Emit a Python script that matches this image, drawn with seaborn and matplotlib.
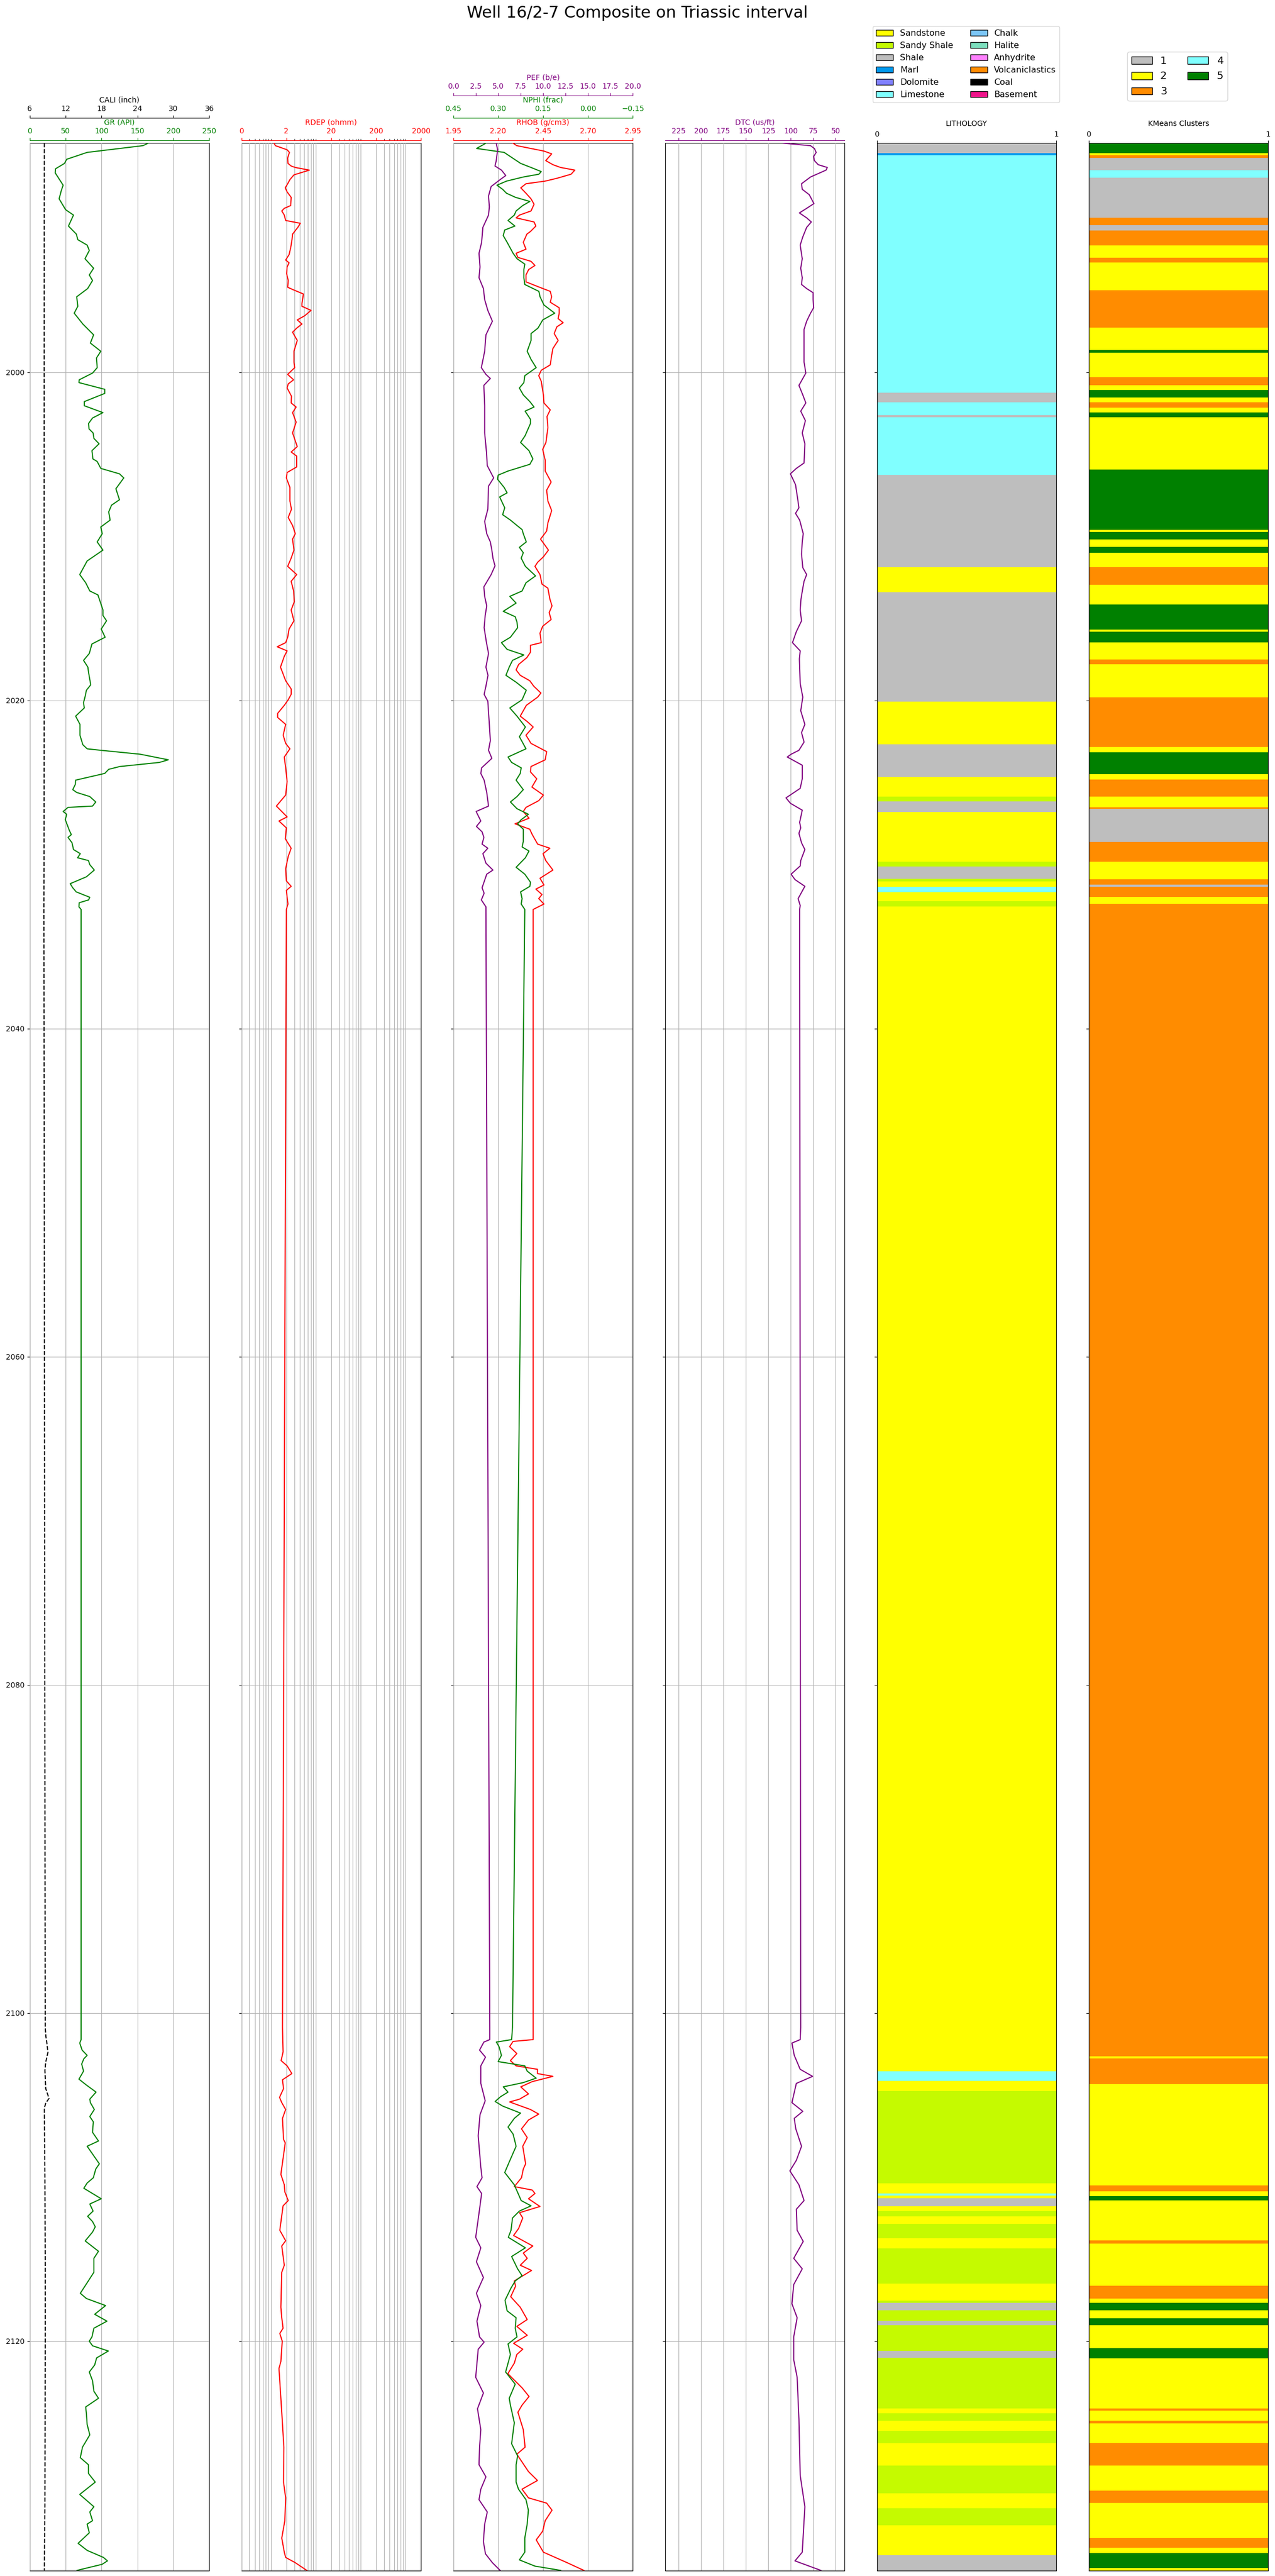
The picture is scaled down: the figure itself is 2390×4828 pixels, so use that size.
import matplotlib
matplotlib.use('Agg')
import matplotlib.pyplot as plt
import matplotlib.patches as mpatches
import seaborn as sns

# ---------------------------------------------------------------------------
# Log curves (depth in m MD)
# ---------------------------------------------------------------------------
gr_depth = [1986.04, 1986.19, 1986.60, 1987.02, 1987.27, 1987.60, 1987.85, 1988.60, 1988.93, 1989.43,
            1990.09, 1990.42, 1991.09, 1991.58, 1991.92, 1992.25, 1992.58, 1993.08, 1993.66, 1994.07,
            1994.41, 1994.90, 1995.40, 1995.98, 1996.40, 1997.06, 1997.72, 1998.22, 1998.72, 1999.13,
            1999.72, 2000.05, 2000.46, 2000.63, 2001.04, 2001.29, 2001.79, 2002.04, 2002.46, 2002.79,
            2003.12, 2003.45, 2003.70, 2004.03, 2004.36, 2004.78, 2005.28, 2005.44, 2005.86, 2006.19,
            2006.44, 2007.10, 2007.77, 2008.10, 2008.51, 2009.01, 2009.43, 2009.84, 2010.34, 2010.84,
            2011.50, 2012.33, 2012.83, 2013.33, 2013.57, 2014.49, 2014.82, 2015.15, 2015.65, 2016.15,
            2016.56, 2017.14, 2017.56, 2017.97, 2018.30, 2019.05, 2019.38, 2019.80, 2020.13, 2020.46,
            2020.96, 2021.46, 2022.12, 2022.70, 2022.95, 2023.04, 2023.28, 2023.62, 2023.78, 2024.03,
            2024.20, 2024.45, 2024.86, 2025.11, 2025.44, 2025.61, 2025.86, 2026.19, 2026.44, 2026.52,
            2026.77, 2026.94, 2027.27, 2027.93, 2028.18, 2028.35, 2028.68, 2029.09, 2029.34, 2029.59,
            2029.76, 2030.01, 2030.34, 2030.75, 2031.17, 2031.42, 2031.67, 2032.00, 2032.16, 2032.33,
            2032.58, 2032.74,
            2100.87, 2101.62, 2101.83, 2102.26, 2102.58, 2102.79, 2103.11, 2103.54, 2104.03, 2104.39,
            2104.82, 2105.25, 2105.46, 2105.88, 2106.31, 2106.63, 2107.27, 2107.80, 2108.12, 2109.19,
            2109.51, 2110.04, 2110.36, 2110.68, 2111.32, 2111.64, 2112.07, 2112.39, 2112.71, 2113.03,
            2113.35, 2113.89, 2114.52, 2114.95, 2115.80, 2116.44, 2117.08, 2117.40, 2117.83, 2118.36,
            2118.78, 2119.21, 2119.74, 2120.00, 2120.28, 2120.60, 2121.02, 2121.45, 2121.88, 2122.41,
            2123.05, 2123.48, 2124.01, 2124.43, 2125.07, 2125.71, 2126.46, 2127.10, 2127.53, 2128.06,
            2128.59, 2129.34, 2130.09, 2130.41, 2130.94, 2131.15, 2131.68, 2132.32, 2132.75, 2133.18,
            2133.39, 2133.60, 2133.97]
gr_api = [165, 157.6, 80, 51.5, 48.5, 36, 35.6, 46.6, 44, 41,
          50, 61, 54, 65, 67, 80, 83, 77, 89, 83,
          87.5, 80.7, 65.5, 67, 62, 74, 89, 84.5, 99, 93,
          94, 87.5, 69, 68.6, 104.5, 104.5, 76, 76, 102, 87.5,
          82, 82.6, 88.3, 89.4, 96.6, 86.7, 88, 94, 99, 125,
          131, 120, 125, 114, 110, 112, 99, 101, 94, 102,
          80, 69.7, 78, 83.7, 95, 102, 102, 107, 99.6, 105,
          86.7, 83, 75, 81, 82, 85, 79, 77, 75, 76,
          64, 70, 70, 74, 80, 99, 154, 193, 180.6, 125.4,
          110, 104.5, 64, 63.6, 60, 65.5, 83.7, 92, 87.5, 53.4,
          46.6, 51.5, 49.6, 55.3, 58, 53.4, 59, 61, 70.5, 66.7,
          81.8, 83.7, 90, 79, 56.4, 60, 64.8, 83.7, 82, 69,
          68.6, 71.6,
          71.6, 71.6, 69.7, 73, 80, 75.4, 72.4, 75, 68.6, 79,
          92.4, 83.7, 84.5, 90, 83.7, 88.6, 87.5, 95.8, 80, 97,
          92, 88.6, 80, 75.4, 99.6, 83.7, 88.3, 80.7, 87.5, 91.3,
          87.5, 77.3, 95.8, 89.4, 89.4, 80, 70.5, 79, 105.7, 90.5,
          107.6, 89.4, 86.7, 83, 87.5, 109.5, 93.2, 90.5, 83, 87.5,
          89.4, 95.8, 78, 79, 80, 83.7, 73.5, 70.5, 81.8, 81.8,
          91.3, 69.7, 89.4, 83.7, 87.5, 80, 83, 67.4, 80, 102.7,
          108.3, 100.8, 66]

cali_depth = [1986.04, 1990.0, 2000.0, 2010.0, 2020.0, 2030.0, 2032.74,
              2100.87, 2101.40, 2101.80, 2102.40, 2103.00, 2103.50, 2104.60, 2105.20, 2105.50,
              2105.80, 2110.0, 2115.0, 2120.0, 2125.0, 2130.0, 2133.97]
cali_in = [8.45, 8.43, 8.42, 8.41, 8.42, 8.40, 8.38,
           8.60, 8.70, 8.86, 9.05, 8.68, 8.55, 8.68, 9.23, 8.68,
           8.45, 8.55, 8.60, 8.60, 8.58, 8.55, 8.45]

rdep_depth = [1986.04, 1986.19, 1986.44, 1986.60, 1986.94, 1987.27, 1987.43, 1987.52, 1987.68, 1987.97,
              1988.26, 1988.51, 1988.76, 1989.01, 1989.34, 1989.84, 1990.01, 1990.17, 1990.42, 1990.75,
              1990.92, 1991.17, 1991.58, 1991.92, 1992.41, 1992.83, 1993.16, 1993.33, 1993.58, 1993.99,
              1994.41, 1994.82, 1994.99, 1995.23, 1995.82, 1995.98, 1996.23, 1996.56, 1996.81, 1997.06,
              1997.31, 1997.56, 1998.06, 1998.72, 1999.38, 1999.72, 2000.13, 2000.46, 2000.71, 2000.96,
              2001.46, 2001.87, 2002.12, 2002.46, 2003.04, 2003.70, 2004.53, 2004.86, 2005.11, 2005.77,
              2006.11, 2006.44, 2007.02, 2007.85, 2008.35, 2008.85, 2009.34, 2009.84, 2010.17, 2010.84,
              2011.33, 2011.83, 2012.33, 2012.74, 2013.33, 2013.99, 2014.49, 2015.15, 2015.65, 2016.15,
              2016.48, 2016.73, 2016.98, 2017.31, 2017.97, 2018.80, 2019.30, 2019.63, 2019.96, 2020.30,
              2020.79, 2021.04, 2021.46, 2022.12, 2022.62, 2022.95, 2023.45, 2024.11, 2024.94, 2025.77,
              2026.44, 2026.77, 2027.10, 2027.35, 2027.77, 2028.43, 2029.01, 2029.51, 2030.26, 2031.00,
              2031.33, 2031.58, 2032.41, 2032.74,
              2100.87, 2102.37, 2102.90, 2103.22, 2103.69, 2104.07, 2104.61, 2105.14, 2105.46, 2105.88,
              2106.42, 2107.70, 2107.91, 2109.83, 2110.47, 2110.90, 2111.43, 2111.75, 2113.24, 2113.88,
              2114.20, 2115.37, 2115.80, 2117.93, 2118.57, 2119.21, 2119.53, 2120.00, 2121.24, 2121.66,
              2124.33, 2126.46, 2128.59, 2129.55, 2130.94, 2132.00, 2132.86, 2133.18, 2133.50, 2133.97]
rdep_ohmm = [1.07, 1.14, 2.08, 2.34, 2.14, 2.17, 2.56, 3.16, 6.5, 2.95,
             2.4, 2.14, 1.89, 2.08, 2.56, 2.5, 1.8, 1.58, 1.8, 1.93,
             4.1, 3.6, 2.75, 2.67, 2.5, 2.3, 1.93, 2.3, 2.08, 2.03,
             2.2, 2.14, 2.95, 4.8, 4.45, 4.45, 7.1, 5.1, 3.5, 4.45,
             3.4, 2.75, 3.5, 2.95, 2.95, 3.07, 2.14, 2.9, 2.2, 2.08,
             2.6, 2.56, 3.3, 2.75, 3.3, 2.75, 3.5, 2.56, 3.4, 3.4,
             2.08, 2.0, 2.4, 2.4, 2.6, 2.2, 2.75, 3.16, 2.75, 2.95,
             2.56, 2.14, 3.4, 2.56, 2.9, 3.0, 2.56, 2.95, 2.3, 2.14,
             1.93, 1.25, 2.08, 1.8, 1.48, 1.93, 2.56, 2.56, 2.2, 1.8,
             1.28, 1.28, 1.93, 1.7, 1.93, 2.4, 1.8, 1.93, 2.08, 1.93,
             1.2, 1.58, 2.08, 1.37, 2.0, 1.89, 2.56, 2.2, 1.93, 2.0,
             2.56, 2.0, 2.17, 2.0,
             1.64, 1.69, 1.53, 2.08, 2.65, 1.64, 1.73, 1.41, 1.58, 1.93,
             1.64, 1.73, 1.89, 1.51, 1.8, 1.85, 2.2, 1.69, 1.43, 1.93,
             1.58, 1.8, 1.58, 1.51, 1.58, 1.69, 1.43, 1.62, 1.51, 1.37,
             1.58, 1.76, 1.73, 1.93, 1.85, 1.58, 1.8, 1.93, 3.16, 5.7]

rhob_depth = [1986.04, 1986.19, 1986.52, 1986.69, 1987.10, 1987.35, 1987.52, 1987.68, 1987.93, 1988.18,
              1988.35, 1988.51, 1988.76, 1989.09, 1989.43, 1989.76, 1990.17, 1990.42, 1990.59, 1990.84,
              1991.09, 1991.42, 1991.58, 1992.08, 1992.50, 1992.75, 1993.00, 1993.24, 1993.49, 1993.74,
              1994.07, 1994.49, 1994.74, 1995.07, 1995.40, 1995.73, 1996.07, 1996.40, 1996.73, 1996.98,
              1997.23, 1997.64, 1998.06, 1998.55, 1998.97, 1999.55, 1999.88, 2000.21, 2000.55, 2001.38,
              2001.87, 2002.29, 2002.70, 2003.37, 2004.28, 2004.70, 2005.36, 2006.02, 2006.69, 2007.19,
              2007.85, 2008.43, 2009.18, 2009.68, 2010.17, 2010.50, 2010.84, 2011.25, 2011.58, 2011.83,
              2012.33, 2012.91, 2013.16, 2013.82, 2014.24, 2014.65, 2015.07, 2015.48, 2015.90, 2016.48,
              2016.64, 2017.06, 2017.39, 2017.81, 2018.14, 2018.47, 2018.80, 2019.13, 2019.55, 2019.80,
              2020.30, 2020.96, 2021.29, 2021.62, 2022.12, 2022.62, 2023.12, 2023.62, 2024.03, 2024.36,
              2024.78, 2025.28, 2025.77, 2026.11, 2026.52, 2026.77, 2027.18, 2027.52, 2027.85, 2028.18,
              2028.76, 2029.01, 2029.34, 2029.76, 2030.34, 2030.84, 2031.25, 2031.50, 2031.83, 2032.08,
              2032.41, 2032.74,
              2100.87, 2101.62, 2101.73, 2102.05, 2102.47, 2102.90, 2103.22, 2103.43, 2103.69, 2103.86,
              2104.18, 2104.50, 2104.93, 2105.25, 2105.42, 2105.88, 2106.16, 2106.52, 2107.06, 2107.59,
              2108.12, 2109.19, 2109.51, 2110.04, 2110.58, 2110.79, 2111.00, 2111.32, 2111.79, 2112.17,
              2112.49, 2113.13, 2113.56, 2114.20, 2114.63, 2114.95, 2115.37, 2115.69, 2116.33, 2116.65,
              2117.29, 2117.93, 2118.68, 2119.10, 2119.64, 2120.13, 2120.49, 2120.81, 2121.34, 2121.98,
              2122.84, 2123.37, 2123.90, 2124.33, 2125.39, 2126.46, 2126.89, 2127.95, 2128.49, 2129.02,
              2129.55, 2129.87, 2130.30, 2130.94, 2131.58, 2132.11, 2132.86, 2133.50, 2133.97]
rhob_gcc = [2.283, 2.304, 2.455, 2.498, 2.465, 2.505, 2.548, 2.627, 2.606, 2.527,
            2.462, 2.355, 2.326, 2.355, 2.383, 2.400, 2.383, 2.319, 2.300, 2.400,
            2.410, 2.380, 2.360, 2.340, 2.355, 2.300, 2.310, 2.383, 2.405, 2.370,
            2.355, 2.355, 2.412, 2.490, 2.498, 2.490, 2.540, 2.540, 2.534, 2.562,
            2.527, 2.512, 2.534, 2.505, 2.498, 2.490, 2.440, 2.426, 2.440, 2.452,
            2.455, 2.490, 2.472, 2.477, 2.466, 2.448, 2.462, 2.462, 2.495, 2.470,
            2.477, 2.498, 2.477, 2.470, 2.436, 2.458, 2.480, 2.452, 2.420, 2.405,
            2.433, 2.444, 2.477, 2.488, 2.500, 2.484, 2.495, 2.448, 2.433, 2.440,
            2.380, 2.380, 2.360, 2.314, 2.300, 2.323, 2.376, 2.398, 2.438, 2.420,
            2.357, 2.323, 2.362, 2.395, 2.355, 2.383, 2.470, 2.462, 2.383, 2.380,
            2.415, 2.388, 2.452, 2.426, 2.355, 2.340, 2.372, 2.294, 2.376, 2.390,
            2.420, 2.488, 2.450, 2.465, 2.505, 2.433, 2.455, 2.410, 2.444, 2.426,
            2.455, 2.395,
            2.395, 2.395, 2.283, 2.264, 2.304, 2.268, 2.300, 2.419, 2.419, 2.505,
            2.390, 2.326, 2.369, 2.319, 2.264, 2.380, 2.426, 2.369, 2.330, 2.362,
            2.337, 2.353, 2.340, 2.330, 2.290, 2.390, 2.405, 2.369, 2.433, 2.319,
            2.337, 2.314, 2.286, 2.393, 2.340, 2.362, 2.323, 2.386, 2.290, 2.297,
            2.270, 2.323, 2.362, 2.304, 2.362, 2.286, 2.337, 2.304, 2.290, 2.254,
            2.333, 2.372, 2.333, 2.310, 2.340, 2.350, 2.304, 2.369, 2.419, 2.333,
            2.369, 2.470, 2.500, 2.462, 2.448, 2.412, 2.452, 2.584, 2.677]

nphi_depth = [1986.04, 1986.36, 1986.60, 1986.94, 1987.27, 1987.52, 1987.77, 1987.93, 1988.10, 1988.35,
              1988.60, 1988.85, 1989.09, 1989.34, 1989.59, 1989.84, 1990.17, 1990.42, 1990.75, 1991.09,
              1991.33, 1991.67, 1992.08, 1992.75, 1993.08, 1993.41, 1993.74, 1994.24, 1994.65, 1995.07,
              1995.40, 1995.90, 1996.40, 1996.81, 1997.31, 1997.64, 1998.06, 1998.72, 1999.22, 1999.72,
              2000.21, 2000.63, 2000.96, 2001.38, 2001.79, 2002.12, 2002.37, 2002.87, 2003.12, 2003.87,
              2004.28, 2004.78, 2005.28, 2005.61, 2006.02, 2006.27, 2006.52, 2007.02, 2007.35, 2007.60,
              2008.26, 2008.68, 2009.01, 2009.34, 2009.59, 2009.84, 2010.34, 2010.67, 2011.00, 2011.33,
              2011.83, 2012.41, 2012.83, 2013.33, 2013.66, 2014.07, 2014.57, 2014.90, 2015.23, 2015.57,
              2016.15, 2016.48, 2016.89, 2017.23, 2017.56, 2017.97, 2018.47, 2018.89, 2019.38, 2019.96,
              2020.46, 2020.96, 2021.62, 2022.21, 2022.95, 2023.45, 2023.78, 2024.11, 2024.45, 2024.86,
              2025.44, 2025.86, 2026.19, 2026.60, 2026.94, 2027.27, 2027.52, 2027.85, 2028.60, 2028.93,
              2029.18, 2029.59, 2030.17, 2030.59, 2031.08, 2031.33, 2031.67, 2032.08, 2032.41, 2032.74,
              2100.87, 2101.62, 2101.77, 2102.05, 2102.58, 2102.96, 2103.22, 2103.54, 2103.97, 2104.24,
              2104.50, 2104.82, 2105.10, 2105.39, 2105.67, 2106.10, 2106.42, 2106.95, 2107.38, 2108.12,
              2109.08, 2109.72, 2110.47, 2111.43, 2111.75, 2112.07, 2112.49, 2113.24, 2113.67, 2114.31,
              2114.84, 2115.59, 2116.01, 2116.33, 2116.76, 2117.51, 2118.15, 2118.57, 2119.21, 2119.74,
              2120.17, 2120.81, 2121.88, 2122.62, 2123.48, 2123.90, 2124.97, 2126.25, 2126.99, 2127.53,
              2128.59, 2129.02, 2129.66, 2130.30, 2131.15, 2132.00, 2132.86, 2133.33, 2133.71, 2133.97]
nphi_frac = [0.341, 0.372, 0.280, 0.252, 0.225, 0.190, 0.156, 0.164, 0.216, 0.272,
             0.304, 0.285, 0.272, 0.242, 0.194, 0.218, 0.240, 0.246, 0.267, 0.244,
             0.278, 0.283, 0.270, 0.250, 0.237, 0.211, 0.214, 0.214, 0.211, 0.164,
             0.160, 0.147, 0.111, 0.151, 0.167, 0.190, 0.190, 0.203, 0.190, 0.173,
             0.211, 0.214, 0.229, 0.216, 0.194, 0.180, 0.210, 0.192, 0.192, 0.210,
             0.225, 0.197, 0.184, 0.194, 0.267, 0.300, 0.302, 0.280, 0.270, 0.295,
             0.278, 0.285, 0.259, 0.237, 0.220, 0.216, 0.206, 0.229, 0.216, 0.223,
             0.209, 0.175, 0.207, 0.220, 0.261, 0.240, 0.283, 0.243, 0.237, 0.235,
             0.259, 0.289, 0.270, 0.214, 0.252, 0.263, 0.274, 0.240, 0.206, 0.220,
             0.261, 0.237, 0.209, 0.229, 0.207, 0.267, 0.255, 0.223, 0.226, 0.240,
             0.216, 0.237, 0.259, 0.237, 0.199, 0.223, 0.235, 0.216, 0.216, 0.220,
             0.197, 0.209, 0.240, 0.211, 0.192, 0.194, 0.225, 0.220, 0.223, 0.211,
             0.252, 0.255, 0.306, 0.297, 0.289, 0.300, 0.211, 0.203, 0.173, 0.216,
             0.283, 0.267, 0.292, 0.310, 0.285, 0.225, 0.246, 0.267, 0.250, 0.240,
             0.263, 0.278, 0.246, 0.223, 0.190, 0.229, 0.252, 0.257, 0.266, 0.209,
             0.255, 0.235, 0.220, 0.243, 0.257, 0.277, 0.270, 0.240, 0.243, 0.237,
             0.267, 0.259, 0.275, 0.243, 0.263, 0.259, 0.246, 0.255, 0.235, 0.240,
             0.240, 0.232, 0.207, 0.199, 0.203, 0.211, 0.211, 0.229, 0.177, 0.091]

pef_depth = [1986.04, 1986.44, 1987.10, 1987.43, 1987.68, 1988.01, 1988.26, 1988.68, 1989.26, 1989.92,
             1990.42, 1991.17, 1992.08, 1992.75, 1993.58, 1994.24, 1994.90, 1995.57, 1996.23, 1996.89,
             1997.72, 1998.72, 1999.72, 2000.13, 2000.38, 2000.80, 2002.04, 2003.70, 2004.86, 2005.69,
             2006.44, 2006.94, 2008.35, 2009.09, 2009.84, 2010.34, 2010.84, 2011.33, 2011.80, 2012.33,
             2013.08, 2013.66, 2014.24, 2014.82, 2015.57, 2016.48, 2017.14, 2017.97, 2018.47, 2019.13,
             2019.63, 2020.05, 2021.46, 2022.45, 2023.04, 2023.53, 2024.11, 2024.45, 2024.86, 2025.61,
             2026.44, 2026.77, 2027.35, 2027.68, 2028.01, 2028.35, 2028.76, 2029.01, 2029.34, 2029.92,
             2030.34, 2030.59, 2031.42, 2031.75, 2032.16, 2032.58, 2032.74,
             2100.87, 2101.62, 2101.77, 2102.26, 2102.69, 2103.22, 2104.29, 2105.35, 2106.20, 2107.48,
             2109.40, 2110.04, 2110.58, 2111.00, 2111.96, 2113.67, 2114.31, 2115.16, 2116.12, 2117.08,
             2117.83, 2118.78, 2119.74, 2120.06, 2120.49, 2122.20, 2123.16, 2124.12, 2125.39, 2126.46,
             2127.53, 2128.27, 2129.02, 2129.66, 2130.41, 2131.15, 2132.22, 2132.96, 2133.50, 2133.97]
pef_be = [4.79, 4.94, 4.79, 4.65, 5.37, 5.85, 5.22, 4.22, 3.93, 4.02,
          3.93, 3.30, 3.16, 2.87, 2.98, 2.87, 3.36, 3.50, 3.85, 4.36,
          3.64, 3.50, 3.13, 3.64, 4.13, 3.41, 3.50, 3.50, 3.70, 3.79,
          4.50, 3.93, 3.85, 3.50, 3.73, 4.13, 4.30, 4.42, 4.65, 4.22,
          3.41, 3.50, 3.73, 3.56, 3.44, 3.70, 3.93, 3.64, 3.87, 3.64,
          3.44, 3.85, 4.02, 4.13, 3.93, 4.30, 3.16, 3.07, 3.44, 3.73,
          3.93, 2.55, 3.07, 2.58, 3.21, 3.41, 3.21, 3.85, 3.30, 3.64,
          4.42, 3.73, 3.21, 3.44, 3.13, 3.64, 3.64,
          4.07, 4.07, 3.41, 2.93, 3.59, 3.07, 3.07, 3.56, 2.98, 2.78,
          3.07, 3.21, 2.64, 3.16, 2.93, 2.50, 3.07, 2.58, 3.36, 2.58,
          3.07, 2.64, 2.93, 3.44, 2.78, 2.50, 3.36, 2.70, 3.07, 2.93,
          2.87, 3.64, 3.07, 2.87, 3.79, 3.50, 3.36, 3.59, 4.36, 5.22]

dtc_depth = [1986.04, 1986.19, 1986.36, 1986.60, 1986.85, 1987.10, 1987.35, 1987.52, 1987.68, 1988.10,
             1988.51, 1988.85, 1989.18, 1989.72, 1990.01, 1990.29, 1990.59, 1990.84, 1991.17, 1991.75,
             1992.25, 1993.08, 1993.66, 1994.24, 1994.65, 1994.90, 1995.15, 1995.57, 1996.07, 1996.40,
             1996.89, 1997.39, 1999.38, 2000.05, 2000.80, 2001.38, 2001.87, 2002.37, 2002.95, 2003.70,
             2004.36, 2005.53, 2005.86, 2006.19, 2006.85, 2007.68, 2008.26, 2008.60, 2009.01, 2009.84,
             2010.34, 2011.08, 2011.91, 2012.33, 2012.74, 2013.16, 2013.82, 2014.49, 2015.15, 2015.81,
             2016.48, 2016.98, 2017.47, 2018.97, 2019.80, 2020.63, 2021.46, 2021.96, 2022.54, 2023.04,
             2023.28, 2023.45, 2023.95, 2024.78, 2025.36, 2025.94, 2026.27, 2026.69, 2027.43, 2027.77,
             2028.10, 2028.68, 2029.09, 2029.76, 2030.09, 2030.59, 2030.92, 2031.33, 2032.08, 2032.50,
             2032.74,
             2100.87, 2101.62, 2101.83, 2102.58, 2103.43, 2103.86, 2104.29, 2105.46, 2105.99, 2106.42,
             2107.06, 2108.12, 2108.98, 2109.62, 2110.47, 2111.43, 2111.96, 2113.24, 2113.92, 2114.95,
             2115.59, 2116.55, 2117.72, 2118.57, 2119.74, 2121.13, 2122.20, 2124.75, 2128.17, 2130.09,
             2132.86, 2133.39, 2133.97]
dtc_usft = [108.2, 78.0, 73.7, 71.7, 74.5, 73.7, 69.4, 59.3, 60.7, 78.0,
            88.0, 87.2, 79.4, 74.2, 82.3, 90.4, 82.3, 77.1, 82.3, 86.6,
            89.5, 87.2, 88.9, 87.2, 88.0, 82.3, 75.1, 75.1, 74.5, 78.0,
            82.3, 85.2, 85.2, 83.2, 90.9, 86.6, 83.2, 88.9, 83.7, 87.2,
            84.3, 85.2, 93.8, 100.4, 94.7, 92.4, 90.9, 94.7, 90.1, 86.1,
            87.2, 88.0, 86.6, 82.3, 85.2, 86.6, 88.6, 89.5, 88.0, 93.8,
            98.1, 89.5, 90.4, 89.5, 86.6, 88.9, 84.3, 88.0, 85.2, 90.9,
            99.6, 103.9, 87.2, 87.2, 89.5, 105.3, 100.4, 87.2, 90.1, 88.9,
            90.9, 88.0, 84.3, 88.9, 89.5, 99.6, 95.3, 84.3, 91.8, 89.5,
            90.1,
            88.9, 89.5, 98.7, 96.1, 89.5, 75.7, 93.8, 98.7, 86.6, 96.1,
            94.4, 88.0, 93.8, 101.0, 90.9, 85.2, 93.8, 92.9, 86.1, 96.7,
            87.2, 96.7, 98.7, 92.9, 96.7, 96.7, 92.9, 90.9, 89.5, 84.3,
            87.2, 95.3, 66.5]

# ---------------------------------------------------------------------------
# Interpreted lithology and KMeans clusters (boundaries are interval tops)
# ---------------------------------------------------------------------------
litho_bounds = [1986.04, 1986.65, 1986.77, 2001.26, 2001.84, 2002.62, 2002.75, 2006.24, 2011.88, 2013.41,
                2020.08, 2022.69, 2024.66, 2025.87, 2026.16, 2026.79, 2029.84, 2030.12, 2030.87, 2031.04,
                2031.35, 2031.67, 2032.25, 2032.55, 2103.54, 2104.15, 2104.76, 2110.39, 2110.98, 2111.13,
                2111.30, 2111.76, 2112.07, 2112.39, 2112.85, 2113.74, 2114.33, 2116.48, 2117.54, 2117.67,
                2118.13, 2118.76, 2119.02, 2120.59, 2121.02, 2124.09, 2124.39, 2124.85, 2125.46, 2126.20,
                2127.57, 2129.26, 2130.17, 2131.22, 2133.04, 2133.97]
litho_names = ['Shale', 'Marl', 'Limestone', 'Shale', 'Limestone', 'Shale', 'Limestone', 'Shale',
               'Sandstone', 'Shale', 'Sandstone', 'Shale', 'Sandstone', 'Sandy Shale', 'Shale',
               'Sandstone', 'Sandy Shale', 'Shale', 'Sandy Shale', 'Sandstone', 'Limestone',
               'Sandstone', 'Sandy Shale', 'Sandstone', 'Limestone', 'Sandstone', 'Sandy Shale',
               'Sandstone', 'Limestone', 'Sandstone', 'Shale', 'Sandstone', 'Sandy Shale', 'Sandstone',
               'Sandy Shale', 'Sandstone', 'Sandy Shale', 'Sandstone', 'Sandy Shale', 'Shale',
               'Sandy Shale', 'Shale', 'Sandy Shale', 'Shale', 'Sandy Shale', 'Sandstone',
               'Sandy Shale', 'Sandstone', 'Sandy Shale', 'Sandstone', 'Sandy Shale', 'Sandstone',
               'Sandy Shale', 'Sandstone', 'Shale']

cluster_bounds = [1986.04, 1986.65, 1986.77, 1986.94, 1987.68, 1988.15, 1990.59, 1991.04, 1991.37, 1992.28,
                  1993.03, 1993.31, 1995.00, 1997.28, 1998.65, 1998.80, 2000.31, 2000.80, 2001.09, 2001.54,
                  2001.84, 2002.16, 2002.46, 2002.75, 2005.94, 2009.61, 2009.72, 2010.20, 2010.65, 2010.99,
                  2011.88, 2012.96, 2014.17, 2015.70, 2015.83, 2016.45, 2017.52, 2017.81, 2019.80, 2022.85,
                  2023.15, 2024.51, 2024.81, 2025.87, 2026.50, 2026.62, 2028.61, 2029.84, 2030.89, 2031.22,
                  2031.35, 2031.97, 2032.41, 2102.63, 2102.78, 2104.33, 2110.52, 2110.85, 2111.15, 2111.43,
                  2113.87, 2114.04, 2116.61, 2117.39, 2117.67, 2118.13, 2118.59, 2119.04, 2120.41, 2121.04,
                  2124.09, 2124.22, 2124.85, 2125.00, 2126.20, 2127.57, 2129.11, 2129.85, 2132.00, 2132.59,
                  2132.91, 2133.83, 2133.97]
cluster_ids = [5, 2, 3, 1, 4, 1, 3, 1, 3, 2,
               3, 2, 3, 2, 5, 2, 3, 2, 5, 2,
               3, 2, 5, 2, 5, 2, 5, 2, 5, 2,
               3, 2, 5, 2, 5, 2, 3, 2, 3, 2,
               5, 2, 3, 2, 3, 1, 3, 2, 3, 1,
               3, 2, 3, 2, 3, 2, 3, 2, 5, 2,
               3, 2, 3, 2, 5, 2, 5, 2, 5, 2,
               3, 2, 3, 2, 3, 2, 3, 2, 3, 2,
               5, 2]

litho_colors = {'Sandstone': '#ffff00', 'Sandy Shale': '#c5fa00', 'Shale': '#bebebe',
                'Marl': '#0099ee', 'Dolomite': '#8080ff', 'Limestone': '#80ffff',
                'Chalk': '#7cc6f6', 'Halite': '#7ddfbe', 'Anhydrite': '#ff80ff',
                'Volcaniclastics': '#ff8c00', 'Coal': 'black', 'Basement': '#ef138a'}
cluster_colors = {1: '#bebebe', 2: '#ffff00', 3: '#ff8c00', 4: '#80ffff', 5: '#008000'}

DEPTH_TOP, DEPTH_BASE = 1986.04, 2133.97

# ---------------------------------------------------------------------------
# Figure layout (pixels at 100 dpi)
# ---------------------------------------------------------------------------
FIG_W, FIG_H = 2390, 4828
TOP_PX, BOT_PX = 268.4, 4817.5
TRACK_W, TRACK_STEP, FIRST_LEFT = 336.7, 397.0, 55.6

fig = plt.figure(figsize=(FIG_W / 100, FIG_H / 100), dpi=100)


def track_axes(i):
    left = (FIRST_LEFT + TRACK_STEP * i) / FIG_W
    bottom = (FIG_H - BOT_PX) / FIG_H
    height = (BOT_PX - TOP_PX) / FIG_H
    ax = fig.add_axes([left, bottom, TRACK_W / FIG_W, height])
    ax.set_ylim(DEPTH_BASE, DEPTH_TOP)
    if i > 0:
        ax.tick_params(axis='y', labelleft=False)
    return ax


def add_curve(ax, depth, values, color, label, xlim, ticks, spine_pos,
              ls='-', log=False, ticklabels=None, grid=False):
    tw = ax.twiny()
    if log:
        tw.set_xscale('log')
    sns.lineplot(x=values, y=depth, ax=tw, color=color, linestyle=ls, linewidth=1.5,
                 orient='y', sort=False, estimator=None)
    tw.set_xlim(*xlim)
    tw.set_xticks(ticks)
    if ticklabels is not None:
        tw.set_xticklabels(ticklabels)
    tw.xaxis.set_ticks_position('top')
    tw.xaxis.set_label_position('top')
    tw.spines['top'].set_position(('axes', spine_pos))
    tw.spines['top'].set_edgecolor(color)
    for s in ('left', 'right', 'bottom'):
        tw.spines[s].set_visible(False)
    tw.set_xlabel(label, color=color)
    tw.set_ylabel('')
    tw.tick_params(axis='x', which='major', colors=color)
    if grid:
        tw.grid(True, axis='x', which='both' if log else 'major')
    tw.set_ylim(DEPTH_BASE, DEPTH_TOP)
    return tw


POS1, POS2, POS3 = 1.0012, 1.0105, 1.0197

# Track 1: GR + CALI
ax1 = track_axes(0)
ax1.set_xticks([])
ax1.grid(True, axis='y')
add_curve(ax1, gr_depth, gr_api, 'green', 'GR (API)', (0, 250), [0, 50, 100, 150, 200, 250], POS1, grid=True)
add_curve(ax1, cali_depth, cali_in, 'black', 'CALI (inch)', (6, 36), [6, 12, 18, 24, 30, 36], POS2, ls='--')

# Track 2: RDEP (log)
ax2 = track_axes(1)
ax2.set_xticks([])
ax2.grid(True, axis='y')
add_curve(ax2, rdep_depth, rdep_ohmm, 'red', 'RDEP (ohmm)', (0.2, 2000), [0.2, 2, 20, 200, 2000], POS1,
          log=True, ticklabels=['0', '2', '20', '200', '2000'], grid=True)

# Track 3: RHOB + NPHI + PEF
ax3 = track_axes(2)
ax3.set_xticks([])
ax3.grid(True, axis='y')
add_curve(ax3, rhob_depth, rhob_gcc, 'red', 'RHOB (g/cm3)', (1.95, 2.95),
          [1.95, 2.2, 2.45, 2.7, 2.95], POS1, grid=True)
add_curve(ax3, nphi_depth, nphi_frac, 'green', 'NPHI (frac)', (0.45, -0.15),
          [0.45, 0.30, 0.15, 0.0, -0.15], POS2)
add_curve(ax3, pef_depth, pef_be, 'purple', 'PEF (b/e)', (0, 20),
          [0, 2.5, 5, 7.5, 10, 12.5, 15, 17.5, 20], POS3)

# Track 4: DTC
ax4 = track_axes(3)
ax4.set_xticks([])
ax4.grid(True, axis='y')
add_curve(ax4, dtc_depth, dtc_usft, 'purple', 'DTC (us/ft)', (240, 40),
          [225, 200, 175, 150, 125, 100, 75, 50], POS1, grid=True)

# Track 5: lithology
ax5 = track_axes(4)
for top, base, name in zip(litho_bounds[:-1], litho_bounds[1:], litho_names):
    ax5.fill_betweenx([top, base], 0, 1, facecolor=litho_colors[name], linewidth=0, antialiased=False)
ax5.set_xlim(0, 1)
ax5.set_ylim(DEPTH_BASE, DEPTH_TOP)
ax5.xaxis.tick_top()
ax5.set_xticks([0, 1])
ax5.set_title('LITHOLOGY', fontsize=10)

# Track 6: clusters
ax6 = track_axes(5)
for top, base, cid in zip(cluster_bounds[:-1], cluster_bounds[1:], cluster_ids):
    ax6.fill_betweenx([top, base], 0, 1, facecolor=cluster_colors[cid], linewidth=0, antialiased=False)
ax6.set_xlim(0, 1)
ax6.set_ylim(DEPTH_BASE, DEPTH_TOP)
ax6.xaxis.tick_top()
ax6.set_xticks([0, 1])
ax6.set_title('KMeans Clusters', fontsize=10)

# Legends
litho_handles = [mpatches.Patch(facecolor=c, edgecolor='black', label=n) for n, c in litho_colors.items()]
fig.legend(handles=litho_handles, loc='upper center', ncol=2, fontsize=11.5, borderaxespad=0,
           bbox_to_anchor=(1811 / FIG_W, 1 - 49 / FIG_H))
cluster_handles = [mpatches.Patch(facecolor=c, edgecolor='black', label=str(k)) for k, c in cluster_colors.items()]
fig.legend(handles=cluster_handles, loc='upper center', ncol=2, fontsize=14, borderaxespad=0,
           bbox_to_anchor=(2207 / FIG_W, 1 - 97 / FIG_H))

fig.text(0.5, 1 - 33 / FIG_H, 'Well 16/2-7 Composite on Triassic interval',
         ha='center', va='baseline', fontsize=22)

fig.savefig('out.png', dpi=100)
